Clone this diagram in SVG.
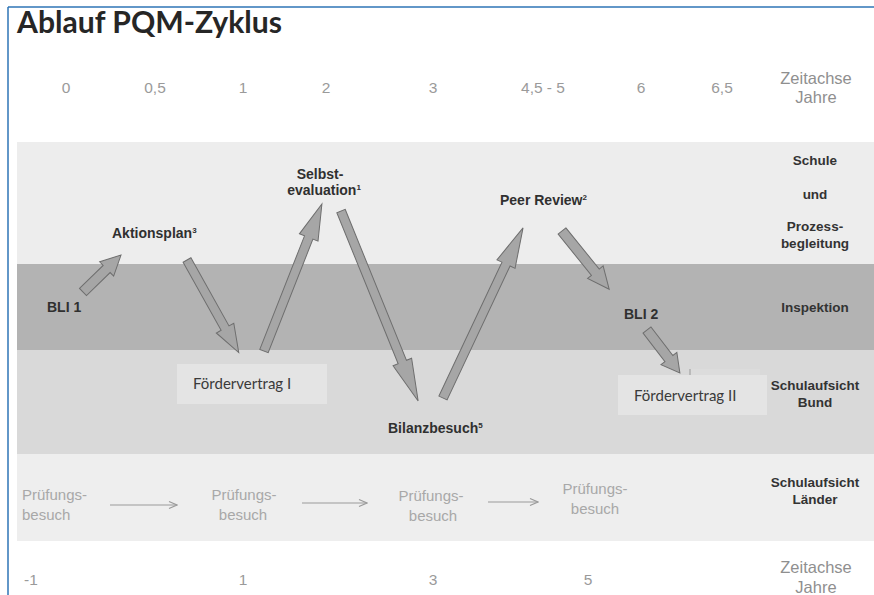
<svg xmlns="http://www.w3.org/2000/svg" width="874" height="595" viewBox="0 0 874 595">
<style>
.axis{font-family:"Liberation Sans",Arial,sans-serif;font-size:15.5px;fill:#9a9a9a;text-anchor:middle}
.zeit{font-family:"Liberation Sans",Arial,sans-serif;font-size:16.5px;fill:#8f8f8f;text-anchor:middle}
.lbl{font-family:"Liberation Sans",Arial,sans-serif;font-size:14px;font-weight:bold;fill:#303030}
.lane{font-family:"Liberation Sans",Arial,sans-serif;font-size:13.5px;font-weight:bold;fill:#333;text-anchor:middle}
.pb{font-family:"Liberation Sans",Arial,sans-serif;font-size:15px;fill:#a8a8a8}
.box{fill:#e4e4e4}
.boxt{font-family:Lato,"Open Sans",sans-serif;font-size:15px;fill:#3a3a3a}
.arr{fill:#a6a6a6;stroke:#6e6e6e;stroke-width:1}
.thin{stroke:#9a9a9a;stroke-width:1.2;fill:none}
.sup{font-size:8px}
</style>
<defs>
<marker id="open" markerWidth="10" markerHeight="10" refX="9" refY="5" orient="auto" markerUnits="userSpaceOnUse">
<path d="M1,1.5 L9,5 L1,8.5" fill="none" stroke="#9a9a9a" stroke-width="1.2"/>
</marker>
</defs>
<rect width="874" height="595" fill="#ffffff"/>
<g id="frame">
<line x1="8" y1="7" x2="874" y2="7" stroke="#2e75b6" stroke-width="1.5"/>
<line x1="8" y1="7" x2="8" y2="595" stroke="#2e75b6" stroke-width="1.5"/>
</g>
<g id="bands">
<rect x="17" y="142" width="857" height="122" fill="#ededed"/>
<rect x="17" y="264" width="857" height="86" fill="#b3b3b3"/>
<rect x="17" y="350" width="857" height="104" fill="#d9d9d9"/>
<rect x="17" y="454" width="857" height="87" fill="#eeeeee"/>
</g>
<text id="title" x="17" y="33" font-family="Lato,'Open Sans',sans-serif" font-weight="bold" font-size="30" fill="#262626" textLength="265" lengthAdjust="spacingAndGlyphs">Ablauf PQM-Zyklus</text>
<g id="axis-top">
<text class="axis" x="66" y="93">0</text>
<text class="axis" x="155" y="93">0,5</text>
<text class="axis" x="243" y="93">1</text>
<text class="axis" x="326" y="93">2</text>
<text class="axis" x="433" y="93">3</text>
<text class="axis" x="543" y="93">4,5 - 5</text>
<text class="axis" x="641" y="93">6</text>
<text class="axis" x="722" y="93">6,5</text>
<text class="zeit" x="816" y="84">Zeitachse</text>
<text class="zeit" x="816" y="103">Jahre</text>
</g>
<g id="axis-bottom">
<text class="axis" x="31" y="585">-1</text>
<text class="axis" x="243" y="585">1</text>
<text class="axis" x="433" y="585">3</text>
<text class="axis" x="588" y="585">5</text>
<text class="zeit" x="816" y="573">Zeitachse</text>
<text class="zeit" x="816" y="593">Jahre</text>
</g>
<g id="lanes">
<text class="lane" x="815" y="165">Schule</text>
<text class="lane" x="815" y="199">und</text>
<text class="lane" x="815" y="231">Prozess-</text>
<text class="lane" x="815" y="248">begleitung</text>
<text class="lane" x="815" y="312">Inspektion</text>
<text class="lane" x="815" y="390">Schulaufsicht</text>
<text class="lane" x="815" y="407">Bund</text>
<text class="lane" x="815" y="487">Schulaufsicht</text>
<text class="lane" x="815" y="504">Länder</text>
</g>
<g id="node-bli1"><text class="lbl" x="47" y="312">BLI 1</text></g>
<g id="node-aktionsplan"><text class="lbl" x="112" y="238">Aktionsplan<tspan class="sup" dy="-5">3</tspan></text></g>
<g id="node-selbstevaluation">
<text class="lbl" x="320" y="179" text-anchor="middle">Selbst-</text>
<text class="lbl" x="324" y="195" text-anchor="middle">evaluation<tspan class="sup" dy="-5">1</tspan></text>
</g>
<g id="node-peerreview"><text class="lbl" x="500" y="205">Peer Review<tspan class="sup" dy="-5">2</tspan></text></g>
<g id="node-bli2"><text class="lbl" x="624" y="319">BLI 2</text></g>
<g id="node-bilanzbesuch"><text class="lbl" x="388" y="433">Bilanzbesuch<tspan class="sup" dy="-5">5</tspan></text></g>
<g id="node-foerdervertrag1">
<rect class="box" x="177" y="364" width="150" height="40"/>
<text class="boxt" x="193" y="389">Fördervertrag I</text>
</g>
<g id="node-foerdervertrag2">
<rect x="690" y="369" width="70" height="8" fill="#dcdcdc"/>
<line x1="690" y1="369" x2="690" y2="377" stroke="#888" stroke-width="0.8"/>
<rect class="box" x="618" y="375" width="149" height="40"/>
<text class="boxt" x="634" y="401">Fördervertrag II</text>
</g>
<g id="node-pruefung1"><text class="pb" x="22" y="500">Prüfungs-</text><text class="pb" x="22" y="520">besuch</text></g>
<g id="node-pruefung2"><text class="pb" x="244" y="500" text-anchor="middle">Prüfungs-</text><text class="pb" x="243" y="520" text-anchor="middle">besuch</text></g>
<g id="node-pruefung3"><text class="pb" x="431" y="501" text-anchor="middle">Prüfungs-</text><text class="pb" x="433" y="521" text-anchor="middle">besuch</text></g>
<g id="node-pruefung4"><text class="pb" x="595" y="494" text-anchor="middle">Prüfungs-</text><text class="pb" x="595" y="514" text-anchor="middle">besuch</text></g>
<g id="connectors">
<polygon class="arr" transform="translate(83,292) rotate(-44.2)" points="0,-5 33,-5 33,-10 53,0 33,10 33,5 0,5"/>
<polygon class="arr" transform="translate(187,260) rotate(60.8)" points="0,-4.5 78,-4.5 78,-10 106,0 78,10 78,4.5 0,4.5"/>
<polygon class="arr" transform="translate(264,351) rotate(-68.5)" points="0,-4.5 122,-4.5 122,-10 158,0 122,10 122,4.5 0,4.5"/>
<polygon class="arr" transform="translate(341,211) rotate(67.9)" points="0,-4.5 163,-4.5 163,-10 205,0 163,10 163,4.5 0,4.5"/>
<polygon class="arr" transform="translate(443,398) rotate(-64.8)" points="0,-4.5 148,-4.5 148,-10 188,0 148,10 148,4.5 0,4.5"/>
<polygon class="arr" transform="translate(562,231) rotate(51)" points="0,-5 53,-5 53,-10 75,0 53,10 53,5 0,5"/>
<polygon class="arr" transform="translate(647,330) rotate(52.5)" points="0,-5 36,-5 36,-10 54,0 36,10 36,5 0,5"/>
<line class="thin" x1="110" y1="505" x2="177" y2="505" marker-end="url(#open)"/>
<line class="thin" x1="302" y1="503" x2="367" y2="503" marker-end="url(#open)"/>
<line class="thin" x1="488" y1="502" x2="538" y2="502" marker-end="url(#open)"/>
</g>
</svg>
